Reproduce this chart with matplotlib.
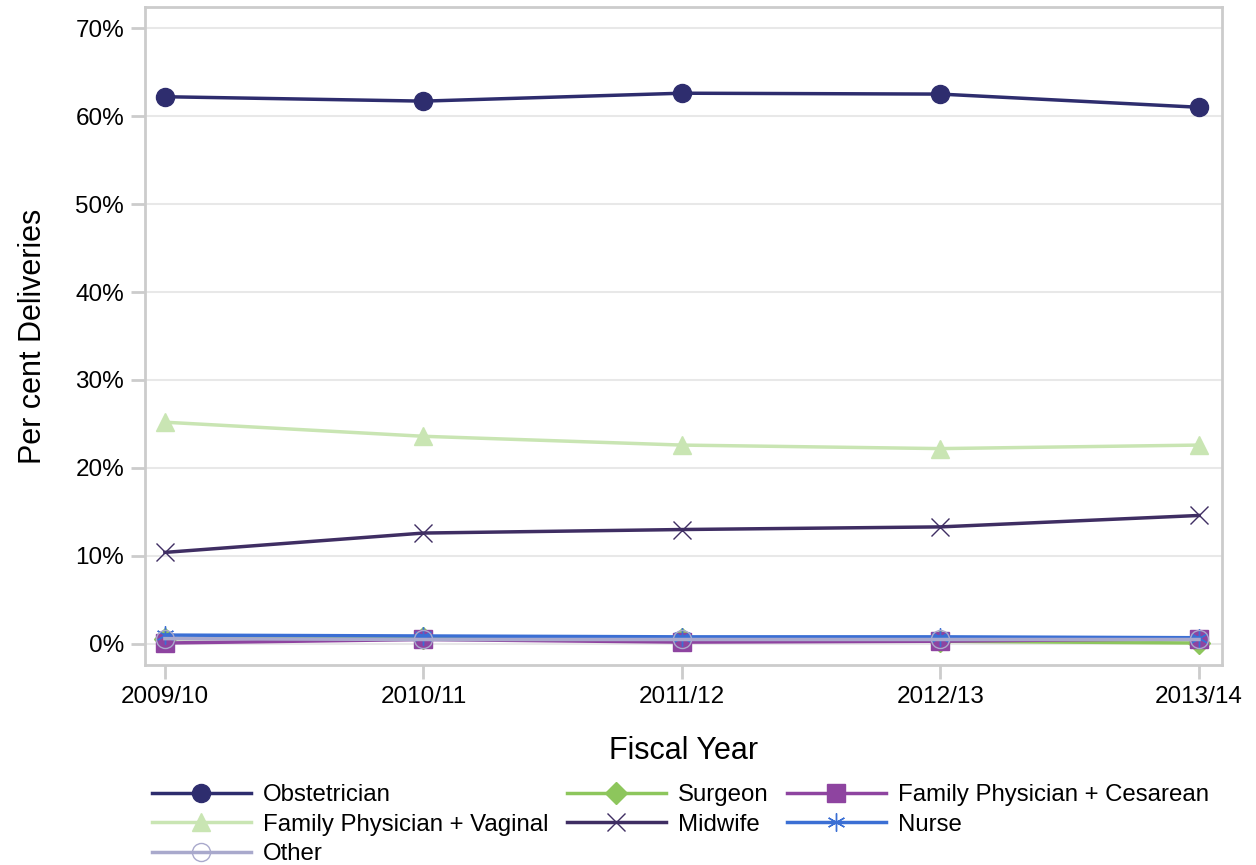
import numpy as np
import matplotlib.pyplot as plt

plt.rcParams['font.family'] = ['Liberation Sans', 'DejaVu Sans']

years = ["2009/10", "2010/11", "2011/12", "2012/13", "2013/14"]
obstetrician = [62.2, 61.7, 62.6, 62.5, 61.0]
fp_vaginal = [25.2, 23.6, 22.6, 22.2, 22.6]
midwife = [10.4, 12.6, 13.0, 13.3, 14.6]
surgeon = [0.6, 0.7, 0.5, 0.3, 0.1]
fp_cesarean = [0.1, 0.5, 0.2, 0.3, 0.6]
nurse = [1.0, 0.9, 0.8, 0.8, 0.7]
other = [0.6, 0.5, 0.5, 0.5, 0.5]

x = np.arange(len(years))
fig = plt.figure(figsize=(12.56, 8.65), dpi=100)
ax = fig.add_axes([145/1256, 1 - 665/865, (1222-145)/1256, (665-7)/865])

ms = 13
ax.plot(x, obstetrician, color="#2e2d6e", lw=2.5, marker="o", ms=ms, label="Obstetrician", zorder=3)
ax.plot(x, fp_vaginal, color="#c9e5b3", lw=2.5, marker="^", ms=ms, label="Family Physician + Vaginal", zorder=3)
ax.plot(x, surgeon, color="#8dc65c", lw=2.5, marker="D", ms=11, label="Surgeon", zorder=3)
ax.plot(x, midwife, color="#3f2e63", lw=2.5, marker="x", ms=ms, mew=1, label="Midwife", zorder=3)
ax.plot(x, fp_cesarean, color="#8e44a0", lw=2.5, marker="s", ms=ms, label="Family Physician + Cesarean", zorder=3)
ax.plot(x, nurse, color="#3b6fd4", lw=2.5, marker=(6, 2, 0), ms=ms, mew=1, label="Nurse", zorder=3)
ax.plot(x, other, color="#a9a9cc", lw=2.5, marker="o", ms=ms, mfc="none", mew=1, label="Other", zorder=3)

ax.set_xlim(-0.077, 4.089)
ax.set_ylim(-2.4, 72.4)
ax.set_xticks(x)
ax.set_xticklabels(years)
ax.set_yticks(np.arange(0, 71, 10))
ax.set_yticklabels([f"{v}%" for v in range(0, 71, 10)])
ax.tick_params(labelsize=17.5, color="#cccccc", length=10, width=2, pad=5)
ax.grid(axis="y", color="#e8e8e8", lw=1.5)
ax.set_axisbelow(True)
for s in ax.spines.values():
    s.set_color("#cccccc")
    s.set_linewidth(2)
ax.set_xlabel("Fiscal Year", fontsize=22, labelpad=20)
ax.set_ylabel("Per cent Deliveries", fontsize=22, labelpad=20)

h, l = ax.get_legend_handles_labels()
# column-major fill: col1 Obst, FPV, Other; col2 Surgeon, Midwife; col3 FPC, Nurse
hh = [h[0], h[1], h[6], h[2], h[3], h[4], h[5]]
ll = [l[0], l[1], l[6], l[2], l[3], l[4], l[5]]
fig.legend(hh, ll, loc="upper left", bbox_to_anchor=(152/1256, 1 - 784/865), ncol=3,
           frameon=False, fontsize=17.3, handlelength=4.1, handletextpad=0.53,
           columnspacing=0.76, labelspacing=0.32, borderaxespad=0, borderpad=0)

fig.savefig("out.png", dpi=100)
